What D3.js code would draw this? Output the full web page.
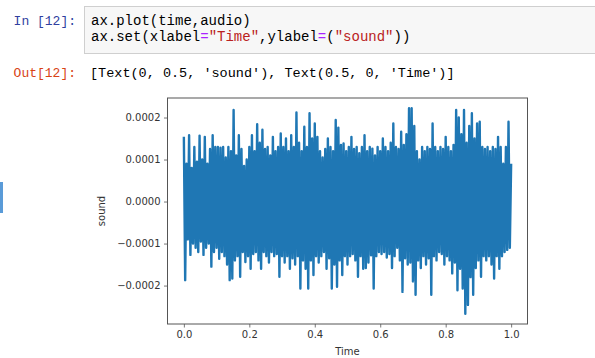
<!DOCTYPE html>
<html>
<head>
<meta charset="utf-8">
<script src="https://cdn.jsdelivr.net/npm/d3@7"></script>
<style>
  html, body { margin: 0; padding: 0; background: #fff; }
  svg { display: block; }
</style>
</head>
<body>
<svg id="chart" width="595" height="358"></svg>
<script>
// notebook cell text
const codeLines = [
    [["ax.plot(time,audio)", "#000"]],
    [["ax.set(xlabel", "#000"], ["=", "#aa22ff"], ["\"Time\"", "#ba2121"], [",ylabel", "#000"],
     ["=", "#aa22ff"], ["(", "#000"], ["\"sound\"", "#ba2121"], ["))", "#000"]]
];
const outText = "[Text(0, 0.5, 'sound'), Text(0.5, 0, 'Time')]";

// waveform peaks (units of 1e-4)
// upper peaks at t = 0, 0.008, 0.016 ... 1.0
const upper = [
    1.54, 0.90, 1.58, 0.80, 1.30, 0.95, 1.57, 1.00, 1.54, 0.90,
    1.25, 1.58, 1.30, 1.30, 1.28, 1.30, 1.05, 1.30, 1.20, 2.18,
    1.10, 1.58, 1.25, 0.85, 1.00, 1.30, 1.58, 1.20, 1.84, 1.40,
    1.71, 1.25, 1.30, 1.10, 1.54, 1.20, 1.30, 1.62, 1.30, 1.50,
    1.20, 1.58, 1.30, 2.12, 1.40, 1.20, 1.78, 1.30, 2.10, 1.50,
    1.86, 1.54, 1.20, 1.05, 1.25, 1.50, 1.30, 1.20, 1.94, 1.76,
    1.35, 1.38, 1.20, 1.30, 1.54, 1.25, 1.30, 1.15, 1.30, 1.58,
    1.20, 1.30, 1.26, 1.10, 1.30, 1.20, 1.50, 1.30, 1.20, 1.40,
    1.86, 1.30, 1.25, 1.66, 1.35, 1.60, 2.22, 2.22, 1.80, 1.20,
    1.00, 1.30, 1.20, 1.30, 1.25, 1.86, 1.30, 1.20, 1.30, 1.25,
    1.54, 1.30, 1.20, 1.35, 2.18, 2.00, 1.60, 2.18, 1.40, 1.80,
    2.10, 1.50, 1.86, 1.90, 1.30, 1.25, 1.30, 1.20, 1.30, 1.25,
    1.54, 1.30, 0.90, 1.30, 1.90, 0.90
];
// lower peaks at t = 0.004, 0.012 ... 0.996
const lower = [
    -1.87, -0.90, -1.27, -1.00, -1.10, -1.20, -0.95, -1.27, -1.10, -1.00,
    -1.55, -1.20, -1.10, -1.36, -1.20, -1.30, -1.50, -1.87, -1.83, -1.40,
    -1.30, -1.79, -1.20, -1.44, -1.30, -1.60, -1.25, -1.20, -1.40, -1.60,
    -1.20, -1.30, -1.45, -1.20, -1.30, -1.25, -1.79, -1.30, -1.45, -1.30,
    -1.60, -1.35, -1.50, -1.30, -2.07, -1.40, -1.60, -2.07, -1.40, -1.75,
    -1.30, -1.45, -1.30, -1.20, -1.60, -1.35, -2.07, -1.50, -2.03, -1.40,
    -1.75, -1.30, -1.50, -1.30, -1.25, -1.40, -1.79, -1.30, -1.60, -1.58,
    -1.45, -1.28, -2.07, -1.30, -1.20, -1.25, -1.20, -1.33, -1.25, -1.58,
    -1.30, -1.10, -1.40, -2.15, -1.35, -1.50, -1.45, -1.90, -2.22, -1.40,
    -1.58, -1.30, -1.50, -1.35, -2.22, -1.30, -1.40, -1.20, -1.25, -1.50,
    -1.30, -1.40, -1.71, -1.45, -2.11, -1.60, -2.07, -2.67, -2.46, -1.80,
    -2.22, -1.58, -1.40, -1.79, -1.30, -1.40, -1.30, -1.50, -1.83, -1.30,
    -1.60, -1.30, -1.20, -1.15, -1.10
];
const sampleStep = 0.004;

const xTicks = [0, 0.2, 0.4, 0.6, 0.8, 1.0];
const yTicks = [-0.0002, -0.0001, 0, 0.0001, 0.0002];

// samples in drawing order: upper / lower alternate
const audio = [];
upper.forEach((v, i) => {
    audio.push({ time: i * 2 * sampleStep, value: v * 1e-4 });
    if (i < lower.length) audio.push({ time: (i * 2 + 1) * sampleStep, value: lower[i] * 1e-4 });
});

const svg = d3.select("#chart");
svg.append("rect").attr("width", 595).attr("height", 358).attr("fill", "#fff");

// --- notebook chrome ---
svg.append("rect")
    .attr("x", 0).attr("y", 182).attr("width", 3).attr("height", 31)
    .attr("fill", "#5a9bd8");

svg.append("rect")
    .attr("x", 84.5).attr("y", 6.5).attr("width", 520).attr("height", 47)
    .attr("fill", "#f7f7f7").attr("stroke", "#cfcfcf").attr("stroke-width", 1);

svg.append("text")
    .attr("x", 76).attr("y", 25)
    .attr("text-anchor", "end")
    .style("font-family", "'Liberation Mono', 'DejaVu Sans Mono', monospace")
    .style("font-size", "13px")
    .attr("fill", "#303f9f")
    .text("In [12]:");

codeLines.forEach((parts, i) => {
    const t = svg.append("text")
        .attr("x", 91).attr("y", 25 + i * 16)
        .style("font-family", "'Liberation Mono', 'DejaVu Sans Mono', monospace")
        .style("font-size", "14px")
        .attr("xml:space", "preserve");
    parts.forEach(p => t.append("tspan").attr("fill", p[1]).text(p[0]));
});

svg.append("text")
    .attr("x", 76).attr("y", 77)
    .attr("text-anchor", "end")
    .style("font-family", "'Liberation Mono', 'DejaVu Sans Mono', monospace")
    .style("font-size", "13px")
    .attr("fill", "#d84315")
    .text("Out[12]:");

svg.append("text")
    .attr("x", 90).attr("y", 77)
    .style("font-family", "'Liberation Mono', 'DejaVu Sans Mono', monospace")
    .style("font-size", "13.5px")
    .attr("fill", "#000")
    .text(outText);

// --- plot ---
const box = { left: 167.5, right: 527.5, top: 98, bottom: 324 };

// matplotlib style 5% margins
const xExt = d3.extent(audio, d => d.time);
const yExt = d3.extent(audio, d => d.value);
const xPad = (xExt[1] - xExt[0]) * 0.05;
const yPad = (yExt[1] - yExt[0]) * 0.05;

const x = d3.scaleLinear()
    .domain([xExt[0] - xPad, xExt[1] + xPad])
    .range([box.left, box.right]);
const y = d3.scaleLinear()
    .domain([yExt[0] - yPad, yExt[1] + yPad])
    .range([box.bottom, box.top]);

const plot = svg.append("g");

plot.append("clipPath").attr("id", "clip")
    .append("rect")
    .attr("x", box.left).attr("y", box.top)
    .attr("width", box.right - box.left).attr("height", box.bottom - box.top);

plot.append("path")
    .datum(audio)
    .attr("clip-path", "url(#clip)")
    .attr("fill", "none")
    .attr("stroke", "#1f77b4")
    .attr("stroke-width", 2.4)
    .attr("stroke-linejoin", "round")
    .attr("d", d3.line().x(d => x(d.time)).y(d => y(d.value)));

const tickFont = "'DejaVu Sans', sans-serif";
const axisColor = "#555";

const xAxis = plot.append("g")
    .attr("transform", `translate(0,${box.bottom})`)
    .call(d3.axisBottom(x).tickValues(xTicks).tickFormat(d3.format(".1f")).tickSize(3.5).tickPadding(3.5));

const yAxis = plot.append("g")
    .attr("transform", `translate(${box.left},0)`)
    .call(d3.axisLeft(y).tickValues(yTicks)
        .tickFormat(d => d3.format(".4f")(d).replace("-", "\u2212"))
        .tickSize(3.5).tickPadding(3.5));

[xAxis, yAxis].forEach(a => {
    a.select(".domain").remove();
    a.selectAll("line").attr("stroke", axisColor).attr("stroke-width", 0.8);
    a.selectAll("text")
        .style("font-family", tickFont)
        .style("font-size", "10px")
        .attr("fill", "#333");
});

// spines
plot.append("rect")
    .attr("x", box.left).attr("y", box.top)
    .attr("width", box.right - box.left).attr("height", box.bottom - box.top)
    .attr("fill", "none")
    .attr("stroke", axisColor)
    .attr("stroke-width", 1);

svg.append("text")
    .attr("x", (box.left + box.right) / 2).attr("y", 355)
    .attr("text-anchor", "middle")
    .style("font-family", tickFont)
    .style("font-size", "10px")
    .attr("fill", "#333")
    .text("Time");

svg.append("text")
    .attr("transform", `translate(105,${(box.top + box.bottom) / 2}) rotate(-90)`)
    .attr("text-anchor", "middle")
    .style("font-family", tickFont)
    .style("font-size", "10px")
    .attr("fill", "#333")
    .text("sound");
</script>
</body>
</html>
